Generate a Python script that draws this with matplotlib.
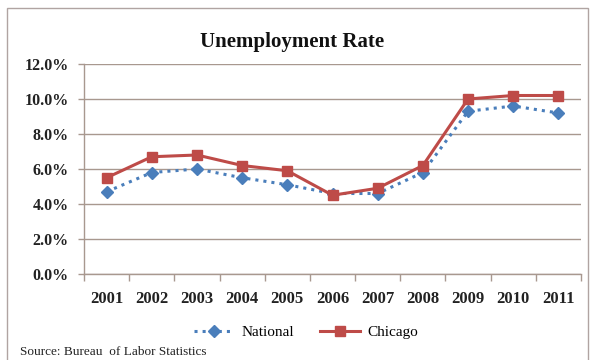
import matplotlib
matplotlib.use('Agg')
import matplotlib.pyplot as plt
from matplotlib.patches import Rectangle
from matplotlib.lines import Line2D
from matplotlib.ticker import FuncFormatter

years = ['2001', '2002', '2003', '2004', '2005', '2006', '2007', '2008', '2009', '2010', '2011']
national = [4.7, 5.8, 6.0, 5.5, 5.1, 4.6, 4.6, 5.8, 9.3, 9.6, 9.2]
chicago = [5.5, 6.7, 6.8, 6.2, 5.9, 4.5, 4.9, 6.2, 10.0, 10.2, 10.2]

blue = '#4A7EBB'
red = '#BE4B48'
grid_col = '#A8988F'
serif = ['Liberation Serif', 'DejaVu Serif']

fig = plt.figure(figsize=(5.9, 3.6), dpi=100)
W, H = 590, 360

# outer chart border
fig.patches.append(Rectangle((7 / W, -0.05), 581 / W, 1.05 - 8 / H, transform=fig.transFigure,
                             fill=False, edgecolor='#B0A4A2', linewidth=1.0))

ax = fig.add_axes([84 / W, 1 - 274 / H, 497 / W, 210 / H])
x = list(range(len(years)))

ax.plot(x, national, color=blue, linestyle=':', linewidth=2.2, marker='D', markersize=6.5,
        markeredgecolor=blue, label='National', zorder=3)
ax.plot(x, chicago, color=red, linestyle='-', linewidth=2.2, marker='s', markersize=7,
        markeredgecolor=red, label='Chicago', zorder=4)

ax.set_xlim(-0.5, len(years) - 0.5)
ax.set_ylim(0, 12)
ax.set_yticks([0, 2, 4, 6, 8, 10, 12])
ax.yaxis.set_major_formatter(FuncFormatter(lambda v, p: f'{v:.1f}%'))
ax.set_xticks(x)
ax.set_xticklabels(years)
ax.set_xticks([i - 0.5 for i in range(len(years) + 1)], minor=True)
ax.tick_params(axis='x', which='major', length=0, pad=12)
ax.tick_params(axis='x', which='minor', length=5, color=grid_col, width=1)
ax.tick_params(axis='y', length=4, color=grid_col, width=1, pad=7)
for lab in ax.get_xticklabels():
    lab.set_family(serif)
    lab.set_fontweight('bold')
    lab.set_fontsize(12)
    lab.set_color('#222222')
for lab in ax.get_yticklabels():
    lab.set_family(serif)
    lab.set_fontweight('bold')
    lab.set_fontsize(11.5)
    lab.set_color('#222222')

ax.grid(axis='y', color=grid_col, linewidth=1)
ax.set_axisbelow(True)
for s in ['top', 'right']:
    ax.spines[s].set_visible(False)
for s in ['left', 'bottom']:
    ax.spines[s].set_color(grid_col)
    ax.spines[s].set_linewidth(1)

fig.text(292 / W, 1 - 42 / H, 'Unemployment Rate', ha='center', va='center',
         family=serif, fontweight='bold', fontsize=15, color='#111111')

handles = [Line2D([], [], color=blue, linestyle=':', linewidth=2.2, marker='D', markersize=6.5),
           Line2D([], [], color=red, linestyle='-', linewidth=2.2, marker='s', markersize=7)]
fig.legend(handles, ['National', 'Chicago'], loc='center', bbox_to_anchor=(306 / W, 1 - 332 / H),
           ncol=2, frameon=False, prop={'family': serif, 'size': 11}, handlelength=2.6,
           columnspacing=1.7, handletextpad=0.5)

fig.text(20 / W, 1 - 352 / H, 'Source: Bureau  of Labor Statistics', ha='left', va='center',
         family=serif, fontsize=9.5, color='#222222')

fig.savefig('out.png', dpi=100)
